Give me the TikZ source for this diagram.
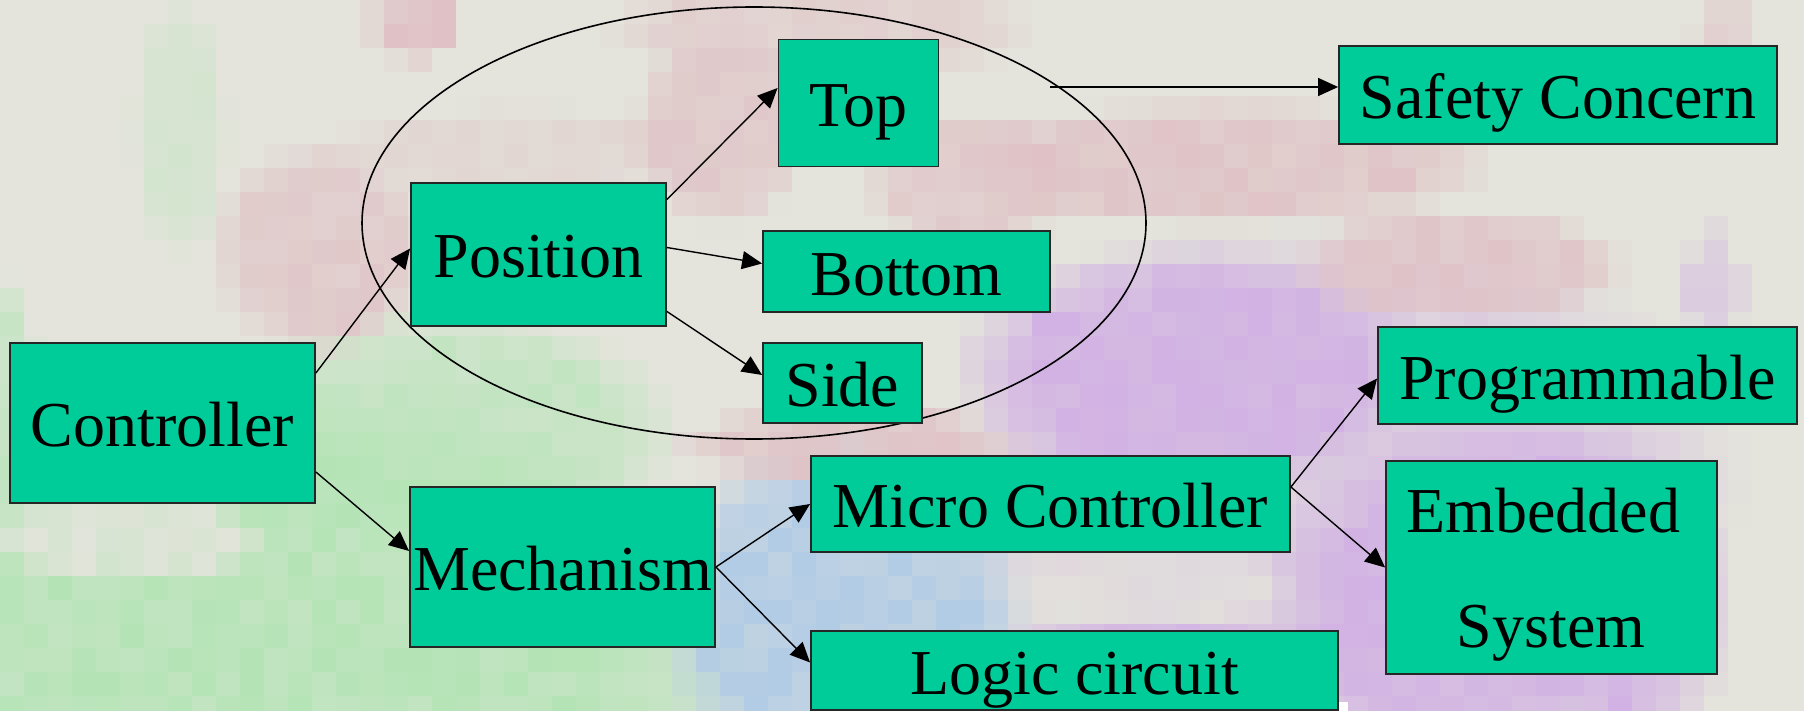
\documentclass[tikz,border=0pt]{standalone}
\usepackage{fontspec}
\setmainfont{Liberation Serif}
\usetikzlibrary{arrows.meta,shapes.geometric}
\definecolor{boxfill}{RGB}{0,204,153}
\definecolor{bgbase}{RGB}{228,228,220}
\definecolor{bgpink}{RGB}{224,194,198}
\definecolor{bggreen}{RGB}{180,228,182}
\definecolor{bgblue}{RGB}{178,204,230}
\definecolor{bgpurple}{RGB}{210,178,228}
\newcommand{\boxfont}{\fontsize{64}{70}\selectfont}
% a soft patch of 24pt mosaic tiles: colour, centre x, centre y, radius x, radius y, strength
\newcommand{\mosaic}[6]{%
  \pgfmathtruncatemacro\ia{max(0,floor((#2-#4)/24))}%
  \pgfmathtruncatemacro\ib{min(75,floor((#2+#4)/24))}%
  \pgfmathtruncatemacro\ja{max(0,floor((#3-#5)/24))}%
  \pgfmathtruncatemacro\jb{min(29,floor((#3+#5)/24))}%
  \foreach \i in {\ia,...,\ib}{\foreach \j in {\ja,...,\jb}{%
    \pgfmathsetmacro\tilea{#6*min(1,2*max(0,1-((\i*24+12-#2)/#4)^2-((\j*24+12-#3)/#5)^2))*(0.8+0.4*rnd)}%
    \ifdim\tilea pt>0.01pt \fill[#1,opacity=\tilea] (\i*24,\j*24) rectangle ++(24,24);\fi
  }}}
\begin{document}
\begin{tikzpicture}[x=1pt,y=-1pt,
  box/.style={draw=black!85, line width=1.8pt, fill=boxfill, inner sep=0pt,
    text height=47pt, text depth=0pt, font=\boxfont},
  lbl/.style={inner sep=0pt, anchor=base, font=\boxfont},
  link/.style={line width=1.4pt, -{Triangle[length=20pt,width=18pt]}}]
\useasboundingbox (0,0) rectangle (1804,711);

% mosaic background
\fill[bgbase] (0,0) rectangle (1804,711);
% green, lower left
\mosaic{bggreen}{250}{700}{520}{330}{0.85}
\mosaic{bggreen}{450}{430}{230}{120}{0.6}
\mosaic{bggreen}{180}{130}{50}{130}{0.3}
\mosaic{bggreen}{0}{380}{40}{110}{0.5}
\mosaic{bgbase}{130}{540}{150}{45}{0.8}
% blue, bottom middle
\mosaic{bgblue}{845}{620}{190}{190}{0.9}
% purple, right
\mosaic{bgpurple}{1350}{480}{400}{260}{0.4}
\mosaic{bgpurple}{1190}{370}{240}{130}{0.85}
\mosaic{bgpurple}{1500}{610}{240}{210}{0.85}
\mosaic{bgpurple}{1150}{690}{200}{80}{0.8}
\mosaic{bgpurple}{1715}{290}{30}{70}{0.5}
\mosaic{bgbase}{1150}{590}{160}{40}{0.6}
% pink band
\mosaic{bgpink}{415}{25}{50}{40}{0.9}
\mosaic{bgpink}{820}{30}{220}{55}{0.5}
\mosaic{bgpink}{1720}{30}{30}{40}{0.5}
\mosaic{bgpink}{320}{250}{110}{110}{0.7}
\mosaic{bgpink}{720}{130}{90}{100}{0.7}
\mosaic{bgpink}{1220}{165}{280}{65}{0.8}
\mosaic{bgpink}{1460}{265}{170}{60}{0.8}
\mosaic{bgpink}{970}{180}{110}{70}{0.7}
\mosaic{bgpink}{850}{445}{180}{40}{0.8}
\mosaic{bgpink}{520}{150}{200}{45}{0.35}
\fill[white] (1339,702) rectangle (1348,711);

% grouping ellipse and its free end
\node[draw, ellipse, line width=1.6pt, minimum width=784pt, minimum height=432pt, inner sep=0pt] (grp) at (754,223) {};
\coordinate (grpout) at (1050,87);

% boxes
\node[box, minimum width=305pt, minimum height=160pt] (ctrl) at (162.5,423) {Controller};
\node[box, minimum width=255pt, minimum height=143pt] (pos) at (538.5,254.5) {Position};
\node[box, minimum width=160pt, minimum height=127pt] (top) at (858.5,103) {Top};
\node[box, minimum width=287pt, minimum height=81pt] (bot) at (906.5,271.5) {Bottom};
\node[box, minimum width=159pt, minimum height=80pt] (side) at (842.5,383) {Side};
\node[box, minimum width=438pt, minimum height=98pt] (safety) at (1558,95) {Safety Concern};
\node[box, minimum width=305pt, minimum height=160pt] (mech) at (562.5,567) {Mechanism};
\node[box, minimum width=479pt, minimum height=96pt] (micro) at (1050.5,504) {Micro Controller};
\node[box, minimum width=527pt, minimum height=79pt] (logic) at (1074.5,670.5) {Logic circuit};
\node[box, minimum width=419pt, minimum height=97pt] (prog) at (1587.5,375.5) {Programmable};
\node[box, minimum width=331pt, minimum height=213pt] (emb) at (1551.5,567.5) {};
\node[lbl] (emb1) at (1543.5,532) {Embedded};
\node[lbl] (emb2) at (1551,647) {System};

% connectors
\draw[link] ([yshift=50pt]ctrl.east) -- ([yshift=6pt]pos.west);
\draw[link] ([yshift=-49pt]ctrl.east) -- ([yshift=16pt]mech.west);
\draw[link] ([yshift=55pt]pos.east) -- ([yshift=15pt]top.west);
\draw[link] ([yshift=7pt]pos.east) -- ([yshift=8pt]bot.west);
\draw[link] ([yshift=-57pt]pos.east) -- ([yshift=8pt]side.west);
\draw[link] (mech.east) -- (micro.west);
\draw[link] (mech.east) -- ([yshift=8pt]logic.west);
\draw[link] ([yshift=17pt]micro.east) -- ([yshift=-3pt]prog.west);
\draw[link] ([yshift=17pt]micro.east) -- (emb.west);
\draw[link] (grpout) -- ([yshift=8pt]safety.west);
\end{tikzpicture}
\end{document}
